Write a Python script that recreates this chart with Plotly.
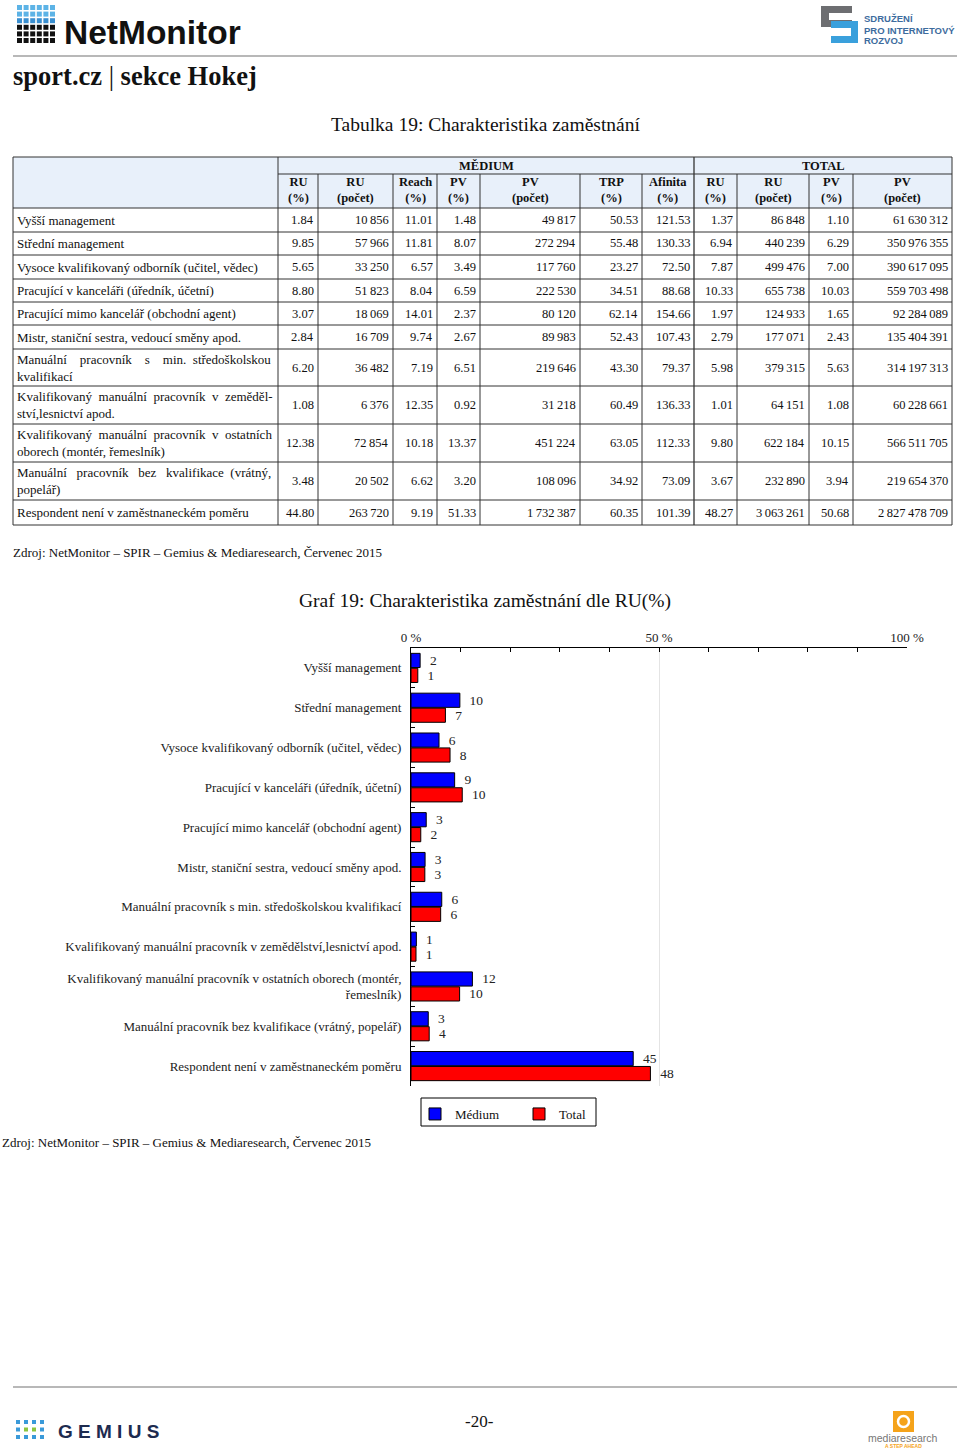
import plotly.graph_objects as go

# ---------------- DATA ----------------
chart_labels = [
    "Vyšší management",
    "Střední management",
    "Vysoce kvalifikovaný odborník (učitel, vědec)",
    "Pracující v kanceláři (úředník, účetní)",
    "Pracující mimo kancelář (obchodní agent)",
    "Mistr, staniční sestra, vedoucí směny apod.",
    "Manuální pracovník s min. středoškolskou kvalifikací",
    "Kvalifikovaný manuální pracovník v zemědělství,lesnictví apod.",
    "Kvalifikovaný manuální pracovník v ostatních oborech (montér,<br>řemeslník)",
    "Manuální pracovník bez kvalifikace (vrátný, popelář)",
    "Respondent není v zaměstnaneckém poměru",
]
NB = "\u00a0"
table_labels = [
    "Vyšší management",
    "Střední management",
    "Vysoce kvalifikovaný odborník (učitel, vědec)",
    "Pracující v kanceláři (úředník, účetní)",
    "Pracující mimo kancelář (obchodní agent)",
    "Mistr, staniční sestra, vedoucí směny apod.",
    f"Manuální{NB*3} pracovník{NB*3} s{NB*3} min.{NB} středoškolskou<br>kvalifikací",
    f"Kvalifikovaný{NB} manuální{NB} pracovník{NB} v{NB} zeměděl-<br>ství,lesnictví apod.",
    f"Kvalifikovaný{NB} manuální{NB} pracovník{NB} v{NB} ostatních<br>oborech (montér, řemeslník)",
    f"Manuální{NB*2} pracovník{NB*2} bez{NB*2} kvalifikace{NB} (vrátný,<br>popelář)",
    "Respondent není v zaměstnaneckém poměru",
]
medium_ru_pct = [1.84, 9.85, 5.65, 8.80, 3.07, 2.84, 6.20, 1.08, 12.38, 3.48, 44.80]
medium_ru_count = [10856, 57966, 33250, 51823, 18069, 16709, 36482, 6376, 72854, 20502, 263720]
medium_reach = [11.01, 11.81, 6.57, 8.04, 14.01, 9.74, 7.19, 12.35, 10.18, 6.62, 9.19]
medium_pv_pct = [1.48, 8.07, 3.49, 6.59, 2.37, 2.67, 6.51, 0.92, 13.37, 3.20, 51.33]
medium_pv_count = [49817, 272294, 117760, 222530, 80120, 89983, 219646, 31218, 451224, 108096, 1732387]
medium_trp = [50.53, 55.48, 23.27, 34.51, 62.14, 52.43, 43.30, 60.49, 63.05, 34.92, 60.35]
medium_afinita = [121.53, 130.33, 72.50, 88.68, 154.66, 107.43, 79.37, 136.33, 112.33, 73.09, 101.39]
total_ru_pct = [1.37, 6.94, 7.87, 10.33, 1.97, 2.79, 5.98, 1.01, 9.80, 3.67, 48.27]
total_ru_count = [86848, 440239, 499476, 655738, 124933, 177071, 379315, 64151, 622184, 232890, 3063261]
total_pv_pct = [1.10, 6.29, 7.00, 10.03, 1.65, 2.43, 5.63, 1.08, 10.15, 3.94, 50.68]
total_pv_count = [61630312, 350976355, 390617095, 559703498, 92284089, 135404391, 314197313,
                  60228661, 566511705, 219654370, 2827478709]
column_headers = ["RU<br>(%)", "RU<br>(počet)", "Reach<br>(%)", "PV<br>(%)", "PV<br>(počet)",
                  "TRP<br>(%)", "Afinita<br>(%)", "RU<br>(%)", "RU<br>(počet)", "PV<br>(%)", "PV<br>(počet)"]
group_headers = ["MĚDIUM", "TOTAL"]
series_names = ["Médium", "Total"]
axis_tick_labels = ["0 %", "50 %", "100 %"]
source_text = "Zdroj: NetMonitor – SPIR – Gemius & Mediaresearch, Červenec 2015"

# ---------------- HELPERS ----------------
W, H = 960, 1456
SERIF = "Liberation Serif, Times New Roman, serif"
SANS = "Liberation Sans, Arial, sans-serif"


def px(x):
    return x / W


def py(y):
    return 1 - y / H


shapes = []
anns = []


def line(x0, y0, x1, y1, color="#333", width=1):
    shapes.append(dict(type="line", xref="paper", yref="paper", x0=px(x0), y0=py(y0),
                       x1=px(x1), y1=py(y1), line=dict(color=color, width=width)))


def rect(x0, y0, x1, y1, fill, lc=None, lw=0):
    shapes.append(dict(type="rect", xref="paper", yref="paper",
                       x0=px(x0), y0=py(y1), x1=px(x1), y1=py(y0), fillcolor=fill,
                       line=dict(color=lc or fill, width=lw), layer="above"))


def text(x, y, s, size, color="#111", family=SERIF, xanchor="left", yanchor="middle", align=None):
    if align is None:
        align = "center" if xanchor == "center" else xanchor
    anns.append(dict(x=px(x), y=py(y), xref="paper", yref="paper", text=s, showarrow=False,
                     xanchor=xanchor, yanchor=yanchor, align=align,
                     font=dict(family=family, size=size, color=color), borderpad=0))


def fmt_count(v):
    return f"{v:,}".replace(",", "\u2009")


def fmt_pct(v):
    return f"{v:.2f}"


# ---------------- HEADER ----------------
for r in range(6):
    for c in range(6):
        col = "#5cb3e6" if r < 2 else ("#3a8fd0" if r == 2 else "#111111")
        x0 = 17 + c * 6.6
        y0 = 5 + r * 6.6
        rect(x0, y0, x0 + 5, y0 + 5, col)
text(63, 32, "<b>NetMonitor</b>", 33.5, "#111", SANS)
# SPIR logo
rect(821, 6, 852, 27, "#6d6e71")
rect(829, 13, 853, 20, "#ffffff")
rect(831, 21, 858, 43, "#3aa0dc")
rect(830, 28, 851, 36, "#ffffff")
text(863, 19, "<b>SDRUŽENÍ</b>", 9.5, "#3d6c9e", SANS)
text(863, 30, "<b>PRO INTERNETOVÝ</b>", 9.5, "#3d6c9e", SANS)
text(863, 40, "<b>ROZVOJ</b>", 9.5, "#3d6c9e", SANS)
line(13, 56, 957, 56, "#a0a0a0", 1.5)
text(12, 76, "<b>sport.cz</b> | <b>sekce Hokej</b>", 26.5, "#111")

# ---------------- TABLE ----------------
text(485, 124, "Tabulka 19: Charakteristika zaměstnání", 19.5, "#111", xanchor="center")
cols = [13, 278, 318, 393, 437, 480, 580, 642, 694, 737, 809, 853, 952]
rows = [157, 174, 208, 232, 255, 279, 302, 325, 349, 386, 424, 462, 500, 525]
rect(13, 157, 952, 208, "#e8f0fa")
line(13, 157, 952, 157)
line(278, 174, 952, 174)
for yy in rows[2:]:
    line(13, yy, 952, yy)
for xx in cols:
    if xx in (13, 278, 694, 952):
        line(xx, 157, xx, 525, "#333", 1.3 if xx == 694 else 1)
    else:
        line(xx, 174, xx, 525)
text((278 + 694) / 2, 165.5, "<b>" + group_headers[0] + "</b>", 12.5, xanchor="center")
text((694 + 952) / 2, 165.5, "<b>" + group_headers[1] + "</b>", 12.5, xanchor="center")
for i, h in enumerate(column_headers):
    text((cols[i + 1] + cols[i + 2]) / 2, 190.5, "<b>" + h + "</b>", 12.5, xanchor="center")

table_columns = [
    (medium_ru_pct, fmt_pct), (medium_ru_count, fmt_count), (medium_reach, fmt_pct),
    (medium_pv_pct, fmt_pct), (medium_pv_count, fmt_count), (medium_trp, fmt_pct),
    (medium_afinita, fmt_pct), (total_ru_pct, fmt_pct), (total_ru_count, fmt_count),
    (total_pv_pct, fmt_pct), (total_pv_count, fmt_count),
]
for r, lab in enumerate(table_labels):
    yc = (rows[r + 2] + rows[r + 3]) / 2
    text(16, yc, lab, 13, "#111", align="left")
    for c, (vals, f) in enumerate(table_columns):
        text(cols[c + 2] - 3, yc, f(vals[r]), 12.5, "#111", xanchor="right")

text(12, 552, source_text, 13, "#111")

# ---------------- CHART ----------------
text(485, 601, "Graf 19: Charakteristika zaměstnání dle RU(%)", 19.5, "#111", xanchor="center")

fig = go.Figure()
fig.add_trace(go.Bar(
    y=chart_labels, x=medium_ru_pct, orientation="h", name=series_names[0],
    marker=dict(color="#0000ff", line=dict(color="#000", width=1)),
    texttemplate="\u00a0\u00a0%{x:.0f}", textposition="outside", constraintext="none",
    textfont=dict(family=SERIF, size=13.5, color="#222"), cliponaxis=False, hoverinfo="skip"))
fig.add_trace(go.Bar(
    y=chart_labels, x=total_ru_pct, orientation="h", name=series_names[1],
    marker=dict(color="#ff0000", line=dict(color="#000", width=1)),
    texttemplate="\u00a0\u00a0%{x:.0f}", textposition="outside", constraintext="none",
    textfont=dict(family=SERIF, size=13.5, color="#222"), cliponaxis=False, hoverinfo="skip"))

# legend frame
shapes.append(dict(type="rect", xref="paper", yref="paper", x0=px(421), y0=py(1126), x1=px(596),
                   y1=py(1098), fillcolor="rgba(0,0,0,0)", line=dict(color="#000", width=1)))

text(1, 1142, source_text, 13, "#111")

# ---------------- FOOTER ----------------
line(13, 1387, 957, 1387, "#a0a0a0", 1.5)
dot_cols = [["#3a9ad9", "#3a9ad9", "#3a9ad9", "#3a9ad9"],
            ["#3a9ad9", "#8cc63f", "#8cc63f", "#3a9ad9"],
            ["#3a9ad9", "#3a9ad9", "#3a9ad9", "#3a9ad9"]]
for r in range(3):
    for c in range(4):
        x0 = 16 + c * 8
        y0 = 1420 + r * 7.5
        rect(x0, y0, x0 + 4, y0 + 4, dot_cols[r][c])
text(57, 1431, "<b>G E M I U S</b>", 19, "#1d2b4f", SANS)
text(479, 1421, "-20-", 17, "#111", xanchor="center")
shapes.append(dict(type="rect", xref="paper", yref="paper", x0=px(893), y0=py(1432), x1=px(914),
                   y1=py(1411), fillcolor="#f5a31a", line=dict(color="#f5a31a", width=0), layer="above"))
shapes.append(dict(type="circle", xref="paper", yref="paper", x0=px(898), y0=py(1427), x1=px(909),
                   y1=py(1416), fillcolor="#f5a31a", line=dict(color="#ffffff", width=2.5), layer="above"))
text(903, 1438, "mediaresearch", 10.5, "#777", SANS, xanchor="center")
text(903, 1446, "<b>A STEP AHEAD</b>", 5, "#f5a31a", SANS, xanchor="center")

fig.update_layout(
    width=W, height=H, margin=dict(l=0, r=0, t=0, b=0, autoexpand=False),
    paper_bgcolor="#ffffff", plot_bgcolor="#ffffff",
    barmode="group", bargap=0.25, bargroupgap=0.05,
    shapes=shapes, annotations=anns,
    font=dict(family=SERIF, size=13, color="#222"),
    xaxis=dict(domain=[px(411), px(907)], range=[0, 100], side="top", automargin=False,
               tickvals=[0, 50, 100], ticktext=axis_tick_labels, ticks="inside", ticklen=4,
               tickcolor="#000", showline=True, linecolor="#000", linewidth=1,
               showgrid=True, gridcolor="#e4e4e4", zeroline=False,
               minor=dict(dtick=10, tick0=0, ticks="inside", ticklen=4, tickcolor="#000", showgrid=False),
               tickfont=dict(family=SERIF, size=13, color="#222"), fixedrange=True),
    yaxis=dict(domain=[py(1086), py(648)], autorange="reversed", showline=True, automargin=False,
               linecolor="#000", linewidth=1, ticks="inside", tickson="boundaries", ticklen=4,
               tickcolor="#000", ticklabelstandoff=6, showgrid=False, zeroline=False,
               tickfont=dict(family=SERIF, size=13, color="#222"), fixedrange=True),
    legend=dict(orientation="h", x=px(415), y=py(1099), xanchor="left", yanchor="top",
                borderwidth=0, bgcolor="rgba(0,0,0,0)", itemwidth=30,
                entrywidth=59, font=dict(family=SERIF, size=13, color="#111"),
                traceorder="normal"),
    showlegend=True,
)

fig.write_html("out.html", config={"displayModeBar": False},
               post_script="document.body.style.margin='0';")
